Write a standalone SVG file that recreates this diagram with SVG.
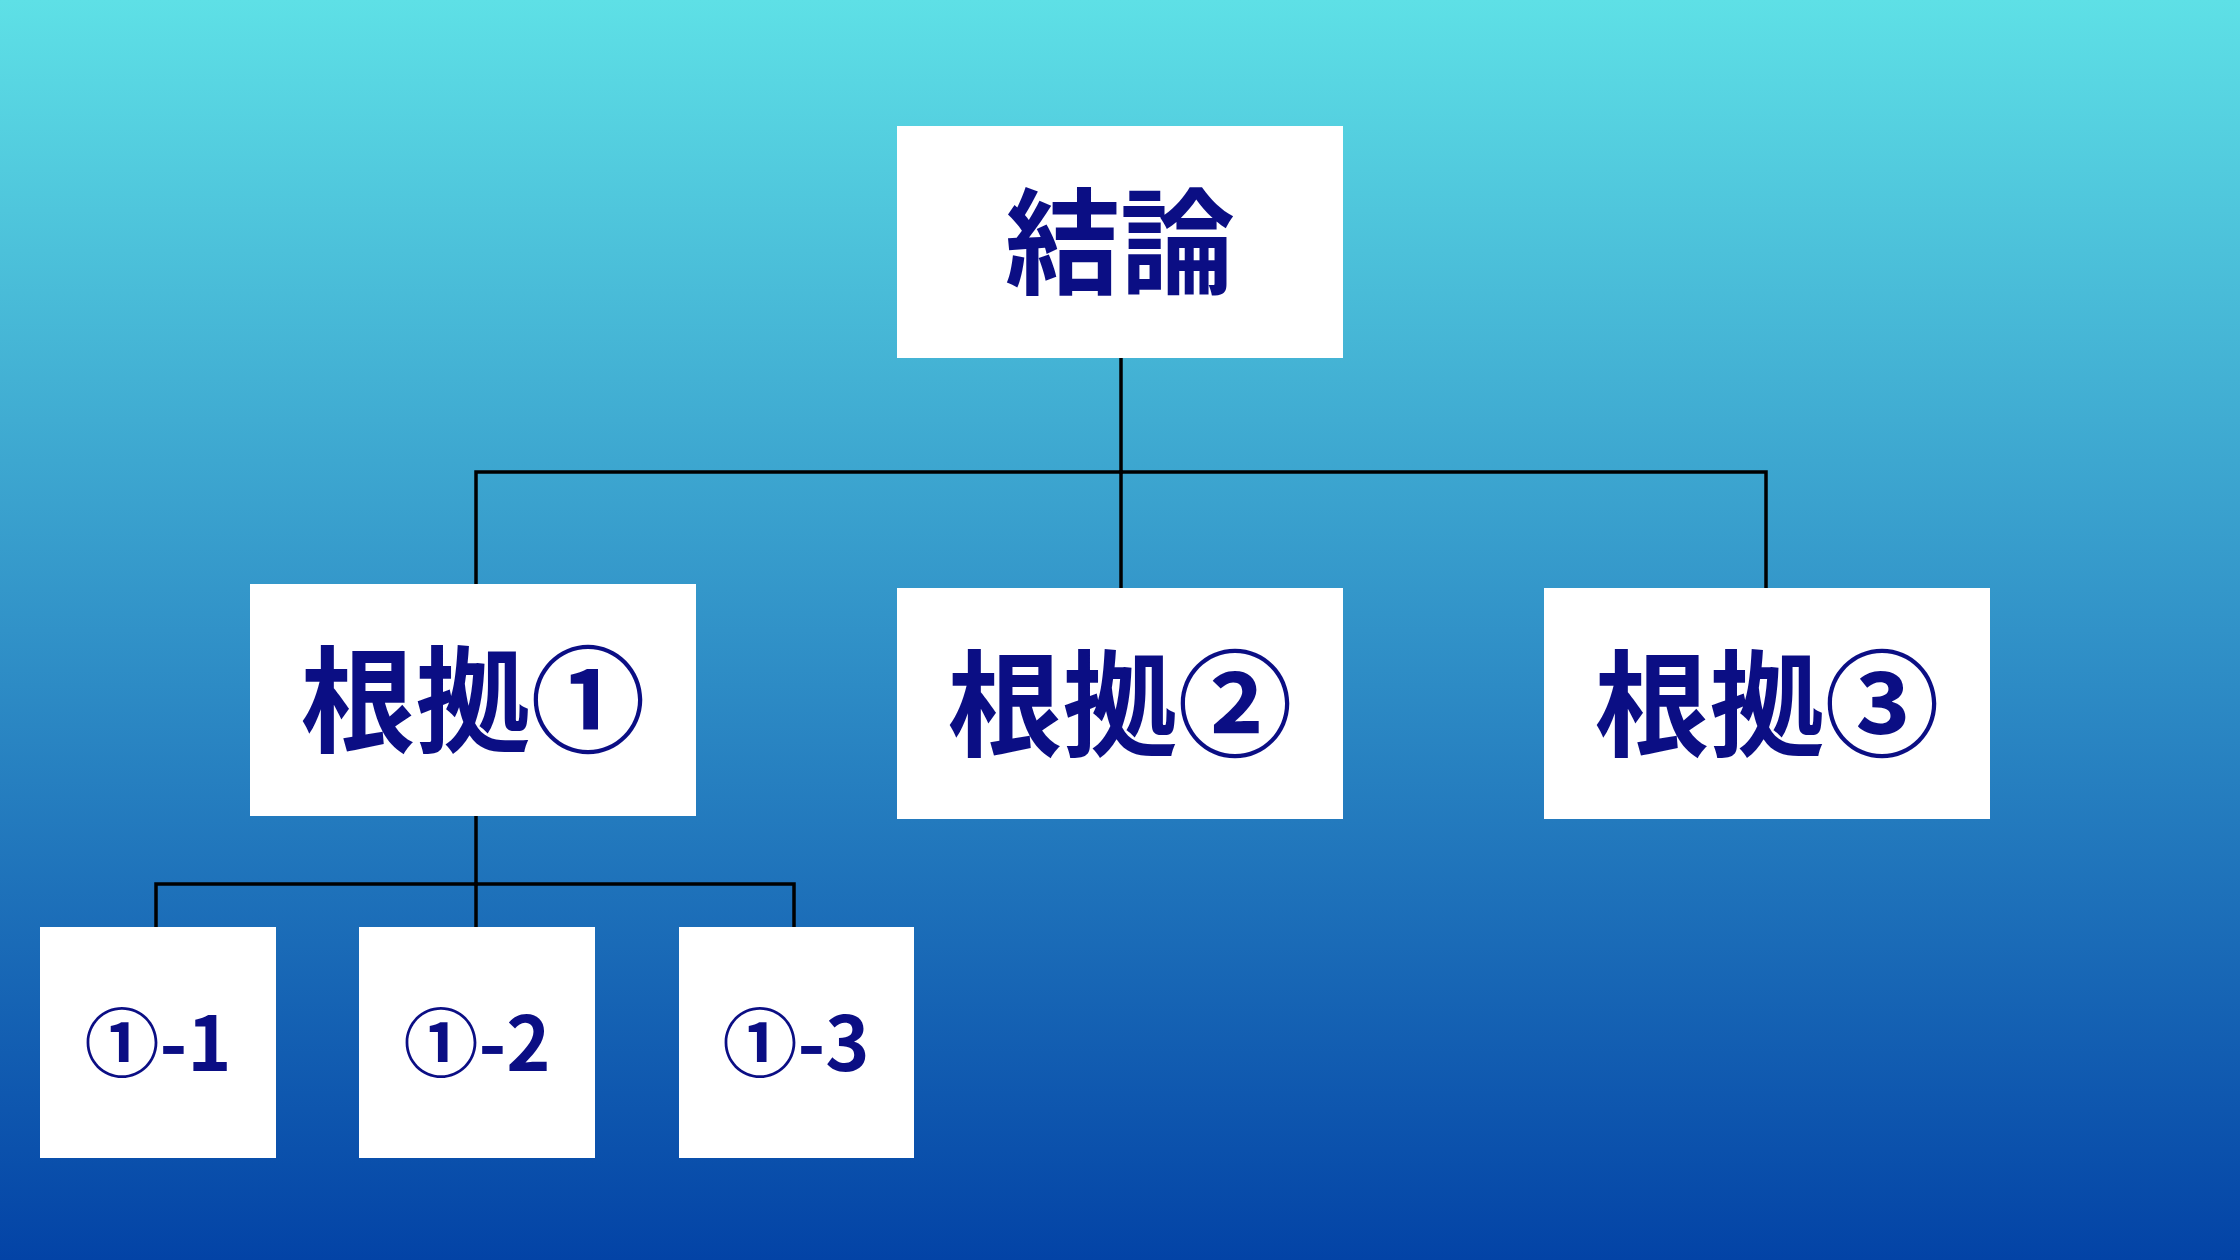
<svg xmlns="http://www.w3.org/2000/svg" width="2240" height="1260" viewBox="0 0 2240 1260">
<defs>
<linearGradient id="bg" x1="0" y1="0" x2="0" y2="1">
<stop offset="0" stop-color="#5ee0e6"/>
<stop offset="0.5" stop-color="#3192c8"/>
<stop offset="1" stop-color="#0343a6"/>
</linearGradient>
<style>
.box{fill:#ffffff}
.lbl{font-family:"Noto Sans CJK JP","Noto Sans",sans-serif;font-weight:700;fill:#0b0e84;text-anchor:middle;dominant-baseline:central}
.big{font-size:115px}
.small{font-size:75px}
.con{stroke:#000000;stroke-width:3.5;fill:none;stroke-linecap:square}
</style>
</defs>
<rect x="0" y="0" width="2240" height="1260" fill="url(#bg)"/>
<g id="connectors">
<path class="con" d="M1121 358 V472"/>
<path class="con" d="M476 584 V472 H1766 V588"/>
<path class="con" d="M1121 472 V588"/>
<path class="con" d="M476 816 V884"/>
<path class="con" d="M156 927 V884 H794 V927"/>
<path class="con" d="M476 884 V927"/>
</g>
<g id="node-conclusion">
<rect class="box" x="897" y="126" width="446" height="232"/>
<text class="lbl big" x="1120" y="235">結論</text>
</g>
<g id="node-reason1">
<rect class="box" x="250" y="584" width="446" height="232"/>
<text class="lbl big" x="473" y="693">根拠①</text>
</g>
<g id="node-reason2">
<rect class="box" x="897" y="588" width="446" height="231"/>
<text class="lbl big" x="1120" y="697">根拠②</text>
</g>
<g id="node-reason3">
<rect class="box" x="1544" y="588" width="446" height="231"/>
<text class="lbl big" x="1767" y="697">根拠③</text>
</g>
<g id="node-1-1">
<rect class="box" x="40" y="927" width="236" height="231"/>
<text class="lbl small" x="158" y="1038">①-1</text>
</g>
<g id="node-1-2">
<rect class="box" x="359" y="927" width="236" height="231"/>
<text class="lbl small" x="477" y="1038">①-2</text>
</g>
<g id="node-1-3">
<rect class="box" x="679" y="927" width="235" height="231"/>
<text class="lbl small" x="796" y="1038">①-3</text>
</g>
</svg>
